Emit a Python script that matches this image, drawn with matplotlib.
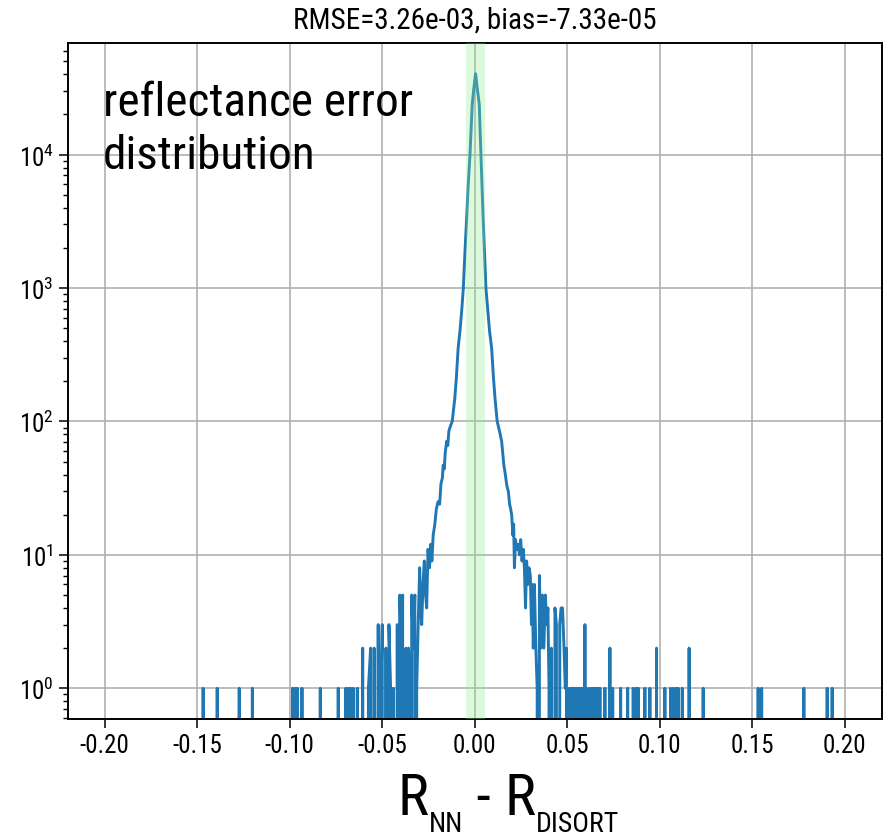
import numpy as np
import matplotlib
matplotlib.use('Agg')
import matplotlib.pyplot as plt
import matplotlib.font_manager as fm
from matplotlib.transforms import IdentityTransform

# ============================================
# 1. Data (bin centre, count)
# ============================================

# isolated single bins in the far tails
left_tail_x = [-0.1468, -0.1392, -0.1273, -0.1202, -0.0985, -0.0972, -0.0960,
               -0.0934, -0.0835, -0.0738, -0.0697, -0.0684, -0.0671, -0.0657,
               -0.0635]
left_tail_n = [1] * len(left_tail_x)

right_tail_x = [0.0511, 0.0517, 0.0523, 0.0533, 0.0541, 0.0550, 0.0559, 0.0565,
                0.0577, 0.0586, 0.0595, 0.0604, 0.0618, 0.0631, 0.0640, 0.0649,
                0.0660, 0.0667, 0.0676, 0.0703, 0.0730, 0.0745, 0.0788, 0.0826,
                0.0856, 0.0871, 0.0883, 0.0919, 0.0946, 0.0982, 0.1027, 0.1058,
                0.1072, 0.1087, 0.1099, 0.1121, 0.1158, 0.1234, 0.1531, 0.1550,
                0.1778, 0.1904, 0.1931]
right_tail_n = [1, 1, 1, 1, 1, 1, 1, 1,
                1, 1, 3, 1, 1, 1, 1, 1,
                1, 1, 1, 1, 2, 1, 1, 1,
                1, 1, 1, 1, 1, 2, 1, 1,
                1, 1, 1, 1, 2, 1, 1, 1,
                1, 1, 1]

# dense central part (zeros are empty bins)
core_x = [-0.0606, -0.0590, -0.0575, -0.0563, -0.0556, -0.0544, -0.0535, -0.0522,
          -0.0515, -0.0507, -0.0500, -0.0490, -0.0480, -0.0472, -0.0464, -0.0455,
          -0.0448, -0.0440, -0.0432, -0.0419, -0.0412, -0.0405, -0.0397, -0.0390,
          -0.0383, -0.0372, -0.0365, -0.0358, -0.0351, -0.0345, -0.0341, -0.0333,
          -0.0324, -0.0318, -0.0314, -0.0306, -0.0298, -0.0292, -0.0287, -0.0280,
          -0.0273, -0.0266, -0.0260, -0.0253, -0.0245, -0.0238, -0.0232, -0.0225,
          -0.0216, -0.0208, -0.0199, -0.0190, -0.0183, -0.0175, -0.0171, -0.0165,
          -0.0160, -0.0152, -0.0146, -0.0140, -0.0132, -0.0122, -0.0108, -0.0100,
          -0.0090, -0.0080, -0.0070, -0.0062, -0.0053, -0.0044, -0.0036, -0.0026,
          -0.0014, -0.0005, 0.0004, 0.0013, 0.0024, 0.0033, 0.0045, 0.0060,
          0.0070, 0.0080, 0.0091, 0.0100, 0.0109, 0.0121, 0.0133, 0.0145,
          0.0157, 0.0165, 0.0173, 0.0181, 0.0188, 0.0194, 0.0199, 0.0206,
          0.0210, 0.0214, 0.0220, 0.0227, 0.0235, 0.0241, 0.0248, 0.0255,
          0.0262, 0.0268, 0.0274, 0.0280, 0.0287, 0.0293, 0.0300, 0.0306,
          0.0310, 0.0316, 0.0322, 0.0330, 0.0337, 0.0343, 0.0349, 0.0357,
          0.0365, 0.0373, 0.0381, 0.0389, 0.0395, 0.0401, 0.0406, 0.0414,
          0.0421, 0.0433, 0.0441, 0.0451, 0.0459, 0.0466, 0.0474, 0.0482,
          0.0489, 0.0495, 0.0501]
core_n = [2, 0, 1, 2, 0, 2, 0, 3,
          0, 1, 3, 0, 2, 0, 3, 1,
          0, 1, 0, 3, 0, 5, 1, 5,
          0, 2, 0, 2, 1, 0, 5, 2,
          5, 0, 1, 3, 8, 4, 3, 6,
          9, 5, 4, 11, 8, 12, 9, 14,
          17, 22, 25, 24, 34, 38, 47, 44,
          58, 71, 66, 85, 92, 100, 150, 210,
          355, 480, 700, 1000, 1900, 3360, 5800, 10000,
          23800, 31600, 40400, 31600, 23800, 10000, 3360, 1000,
          680, 470, 355, 220, 150, 100, 85, 71,
          47, 40, 33, 30, 24, 22, 20, 14,
          17, 8, 13, 11, 12, 10, 13, 9,
          11, 8, 4, 9, 6, 8, 7, 3,
          6, 2, 6, 2, 1, 0, 7, 2,
          5, 2, 5, 3, 4, 1, 0, 2,
          0, 4, 3, 0, 3, 4, 4, 2,
          1, 2, 0]

rmse = 3.26e-03
bias = -7.33e-05
band_lo, band_hi = -0.0048, 0.0054
bin_w = 0.0004

# ============================================
# 2. Build the histogram line (empty bins either side of isolated bins)
# ============================================

def spikes(xs, ns):
    px, py = [], []
    for x, n in zip(xs, ns):
        px += [x - bin_w, x, x + bin_w]
        py += [0, n, 0]
    return px, py

lx, ly = spikes(left_tail_x, left_tail_n)
rx, ry = spikes(right_tail_x, right_tail_n)
line_x = np.array(lx + core_x + rx, dtype=float)
line_n = np.array(ly + core_n + ry, dtype=float)

# ============================================
# 3. Fonts
# ============================================

names = {f.name for f in fm.fontManager.ttflist}
font = 'DejaVu Sans'
for cand in ['Roboto Condensed', 'Liberation Sans Narrow', 'Roboto']:
    if cand in names:
        font = cand
        break
plt.rcParams['font.family'] = [font, 'DejaVu Sans']
plt.rcParams['mathtext.default'] = 'regular'

# ============================================
# 4. Plot
# ============================================

fig = plt.figure(figsize=(8.87, 8.37), dpi=100)
ax = fig.add_axes([0.0763, 0.1398, 0.918, 0.8076])

ax.plot(line_x, line_n, color='#1f77b4', lw=2.1, zorder=2)
ax.axvspan(band_lo, band_hi, color='lightgreen', alpha=0.3, lw=0, zorder=3)

ax.set_yscale('log')
ax.set_xlim(-0.22, 0.22)
ax.set_ylim(10 ** -0.23, 10 ** 4.836)
ax.set_xticks(np.arange(-0.20, 0.201, 0.05))
ax.xaxis.set_major_formatter(
    matplotlib.ticker.FuncFormatter(lambda v, p: f'{round(v, 2) + 0.0:.2f}'))

ax.grid(True, which='major', color='#b0b0b0', lw=1.2)
ax.set_axisbelow(True)
ax.tick_params(which='major', length=6.5, width=1.1, labelsize=18)
ax.tick_params(which='minor', length=3.6, width=1.0)
for s in ax.spines.values():
    s.set_linewidth(1.4)

ax.set_title(f'RMSE={rmse:.2e}, bias={bias:.2e}', fontsize=21, pad=11)
ax.text(0.043, 0.945, 'reflectance error\ndistribution', transform=ax.transAxes,
        fontsize=34, va='top', ha='left', linespacing=1.25)

# x label: R_NN - R_DISORT, written piece by piece (big letters, small subscripts)
label_parts = [('R', 42, 0), ('NN', 20, -17), (' - ', 42, 0), ('R', 42, 0), ('DISORT', 20, -17)]
fig.canvas.draw()
renderer = fig.canvas.get_renderer()
x_px, base_px = 398, 22
for txt, size, dy in label_parts:
    t = fig.text(x_px, base_px + dy, txt, fontsize=size, transform=IdentityTransform(),
                 va='baseline', ha='left')
    x_px = t.get_window_extent(renderer).x1

plt.savefig('out.png', dpi=100)
